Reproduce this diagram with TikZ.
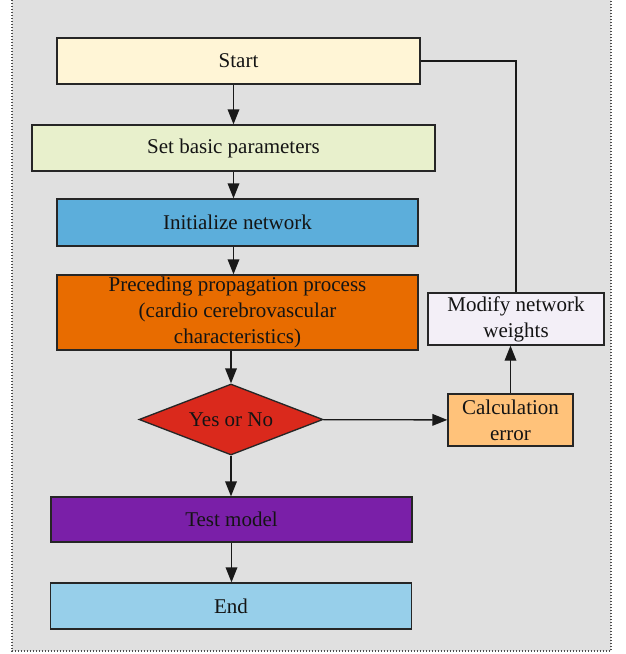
\documentclass[tikz,border=0pt]{standalone}
\usepackage{fontspec}
\setmainfont{Liberation Serif}
\usepackage{tikz}
\usetikzlibrary{shapes.geometric}
\usetikzlibrary{arrows.meta}
\usepackage{xcolor}
\definecolor{bgc}{RGB}{224,224,224}
\definecolor{startc}{RGB}{255,245,214}
\definecolor{setc}{RGB}{232,240,204}
\definecolor{initc}{RGB}{92,174,219}
\definecolor{precc}{RGB}{232,108,0}
\definecolor{decc}{RGB}{218,41,28}
\definecolor{testc}{RGB}{122,31,168}
\definecolor{endc}{RGB}{151,207,234}
\definecolor{calcc}{RGB}{255,194,122}
\definecolor{modc}{RGB}{243,239,247}
\definecolor{txt}{RGB}{20,20,20}
\tikzset{
  box/.style={draw=black!85,line width=0.8pt,rectangle,inner sep=1pt,
    text=txt,font=\fontsize{12.6}{15.6}\selectfont,align=center},
  decide/.style={draw=black!85,line width=0.8pt,diamond,aspect=2.6,inner sep=0pt,
    text=txt,font=\fontsize{12.6}{15.6}\selectfont},
  arr/.style={line width=0.8pt,black!90,-{Triangle[length=9pt,width=7pt]}},
  back/.style={line width=0.8pt,black!90}
}

\begin{document}
\begin{tikzpicture}[x=0.6pt,y=-0.6pt]
\useasboundingbox (0,0) rectangle (626,654);
\fill[bgc] (12,0) rectangle (611,651);
\draw[black!70,dash pattern=on 0.6pt off 1.2pt,line width=0.7pt] (12,0)--(12,651)--(611,651)--(611,0);
\node[box,fill=startc,minimum width=217.8pt,minimum height=27.6pt] (start) at (238.5,61) {Start};
\node[box,fill=setc,minimum width=241.8pt,minimum height=27.6pt] (set) at (233.5,148) {Set basic parameters};
\node[box,fill=initc,minimum width=216.6pt,minimum height=28.2pt] (init) at (237.5,222.5) {Initialize network};
\node[box,fill=precc,minimum width=216.6pt,minimum height=45pt] (prec) at (237.5,312.5)
  {Preceding propagation process\\(cardio cerebrovascular\\characteristics)};
\node[decide,fill=decc,minimum width=110.4pt,minimum height=42.6pt] (dec) at (231,419.5) {Yes or No};
\node[box,fill=testc,minimum width=216.6pt,minimum height=27pt] (test) at (231.5,519.5) {Test model};
\node[box,fill=endc,minimum width=216.6pt,minimum height=27.6pt] (end) at (231,606) {End};
\node[box,fill=calcc,minimum width=75pt,minimum height=31.2pt] (calc) at (510.5,420) {Calculation\\error};
\node[box,fill=modc,minimum width=105.6pt,minimum height=31.2pt] (mod) at (516,319) {Modify network\\weights};
% main line
\draw[arr] (start.south -| set) -- (set);
\draw[arr] (set) -- (set |- init.north);
\draw[arr] (init.south -| set) -- (set |- prec.north);
\draw[arr] (prec.south -| dec) -- (dec);
\draw[arr] (dec) -- (dec |- test.north);
\draw[arr] (test) -- (test |- end.north);
% feedback
\draw[arr] (dec) -- (calc);
\draw[arr] (calc) -- (calc |- mod.south);
\draw[back] (mod.north) |- (start.east);
\end{tikzpicture}
\end{document}
